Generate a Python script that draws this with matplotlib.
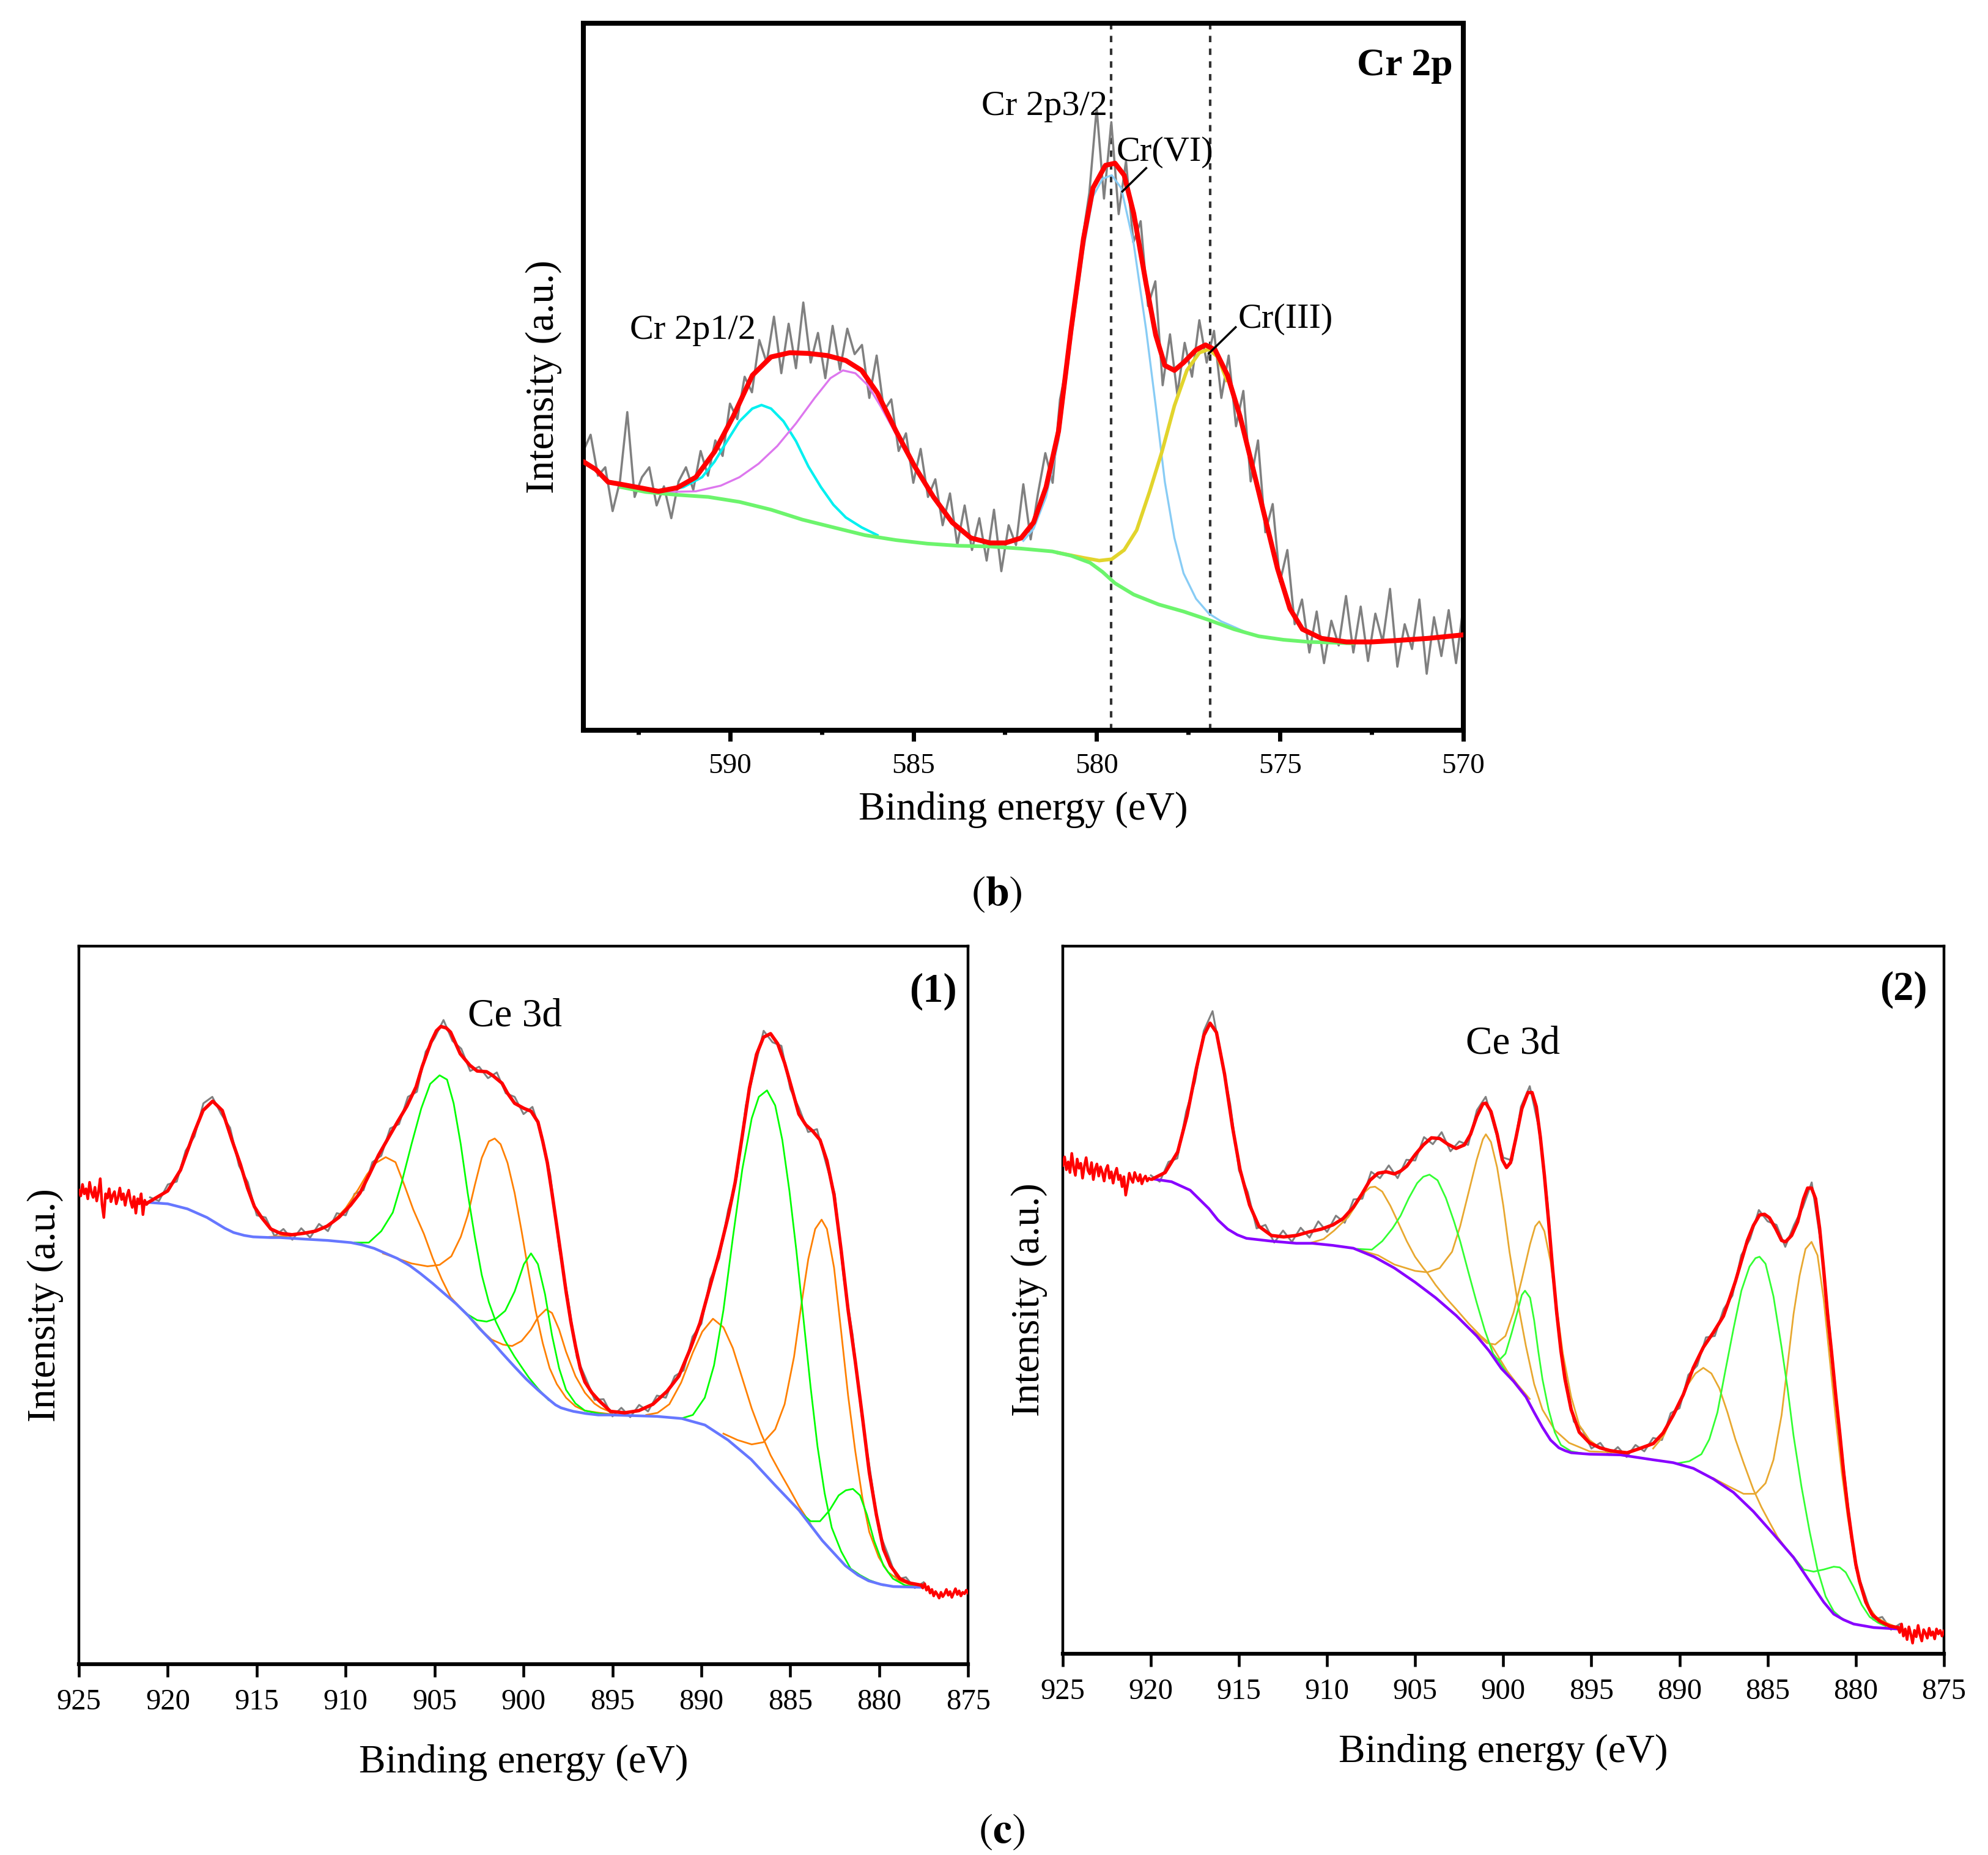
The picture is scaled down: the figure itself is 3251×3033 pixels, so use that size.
import numpy as np
import matplotlib.pyplot as plt
from matplotlib.ticker import MultipleLocator

plt.rcParams['font.family'] = ['Liberation Serif', 'DejaVu Serif']
plt.rcParams['mathtext.fontset'] = 'stix'

# ---------------- (b) Cr 2p : binding energy (eV), intensity (a.u.) ----------------
cr_raw = [395, 418, 360, 372, 310, 352, 450, 330, 358, 372, 318, 345, 300, 352, 372, 340,
          395, 360, 410, 388, 462, 440, 500, 478, 552, 520, 585, 505, 575, 512, 605, 520,
          562, 498, 572, 510, 568, 532, 545, 470, 530, 452, 468, 395, 420, 350, 398, 330,
          355, 290, 335, 262, 318, 255, 300, 240, 312, 225, 290, 262, 348, 270, 335, 392,
          350, 468, 520, 610, 690, 760, 880, 752, 860, 730, 805, 690, 720, 600, 635, 488,
          560, 475, 548, 500, 580, 520, 565, 470, 530, 430, 480, 352, 410, 280, 320, 210,
          255, 150, 185, 110, 168, 95, 155, 120, 190, 110, 175, 98, 165, 125, 200, 90,
          150, 115, 185, 80, 160, 105, 170, 95, 175]
cr_fit = [[594.0, 380], [593.66, 369], [593.32, 351], [592.98, 348], [592.46, 343], [591.95, 338],
          [591.44, 343], [590.93, 358], [590.42, 394], [589.91, 444], [589.39, 502], [588.88, 528],
          [588.37, 534], [587.86, 533], [587.35, 530], [586.84, 523], [586.41, 509], [585.98, 477],
          [585.47, 423], [584.96, 373], [584.45, 330], [583.94, 294], [583.43, 272], [582.91, 265],
          [582.49, 265], [582.06, 272], [581.72, 294], [581.38, 344], [581.04, 423], [580.70, 566],
          [580.36, 695], [580.10, 767], [579.76, 799], [579.50, 802], [579.25, 785], [578.99, 731],
          [578.65, 631], [578.39, 559], [578.14, 516], [577.88, 509], [577.63, 520], [577.29, 538],
          [577.03, 545], [576.77, 538], [576.43, 502], [576.09, 444], [575.75, 373], [575.41, 301],
          [575.07, 229], [574.73, 172], [574.39, 143], [573.87, 130], [573.19, 125], [572.51, 125],
          [571.83, 127], [570.97, 130], [570.0, 135]]
cr_bg = [[592.98, 344], [592.29, 337], [591.44, 333], [590.59, 330], [589.74, 323], [588.88, 312],
         [588.03, 298], [587.18, 287], [586.32, 276], [585.47, 269], [584.62, 264], [583.77, 261],
         [582.91, 260], [582.06, 257], [581.21, 253], [580.70, 247], [580.18, 237], [579.84, 224],
         [579.50, 208], [578.99, 192], [578.31, 178], [577.63, 168], [576.94, 156], [576.26, 143],
         [575.58, 133], [574.90, 128], [574.21, 125], [573.53, 124], [573.02, 123]]
cr_2p12_a = [[591.78, 338], [591.27, 344], [590.76, 358], [590.42, 380], [590.08, 409], [589.74, 437],
             [589.39, 455], [589.14, 460], [588.88, 455], [588.54, 437], [588.20, 409], [587.86, 373],
             [587.52, 344], [587.18, 319], [586.84, 301], [586.41, 287], [585.98, 276]]
cr_2p12_b = [[591.78, 337], [590.93, 338], [590.25, 346], [589.74, 358], [589.22, 377], [588.71, 402],
             [588.20, 434], [587.69, 470], [587.26, 498], [586.92, 509], [586.58, 505], [586.24, 488],
             [585.90, 459], [585.56, 427], [585.22, 394], [584.87, 366]]
cr_vi = [[582.0, 268], [581.72, 285], [581.38, 330], [581.04, 410], [580.70, 552], [580.36, 680],
         [580.10, 755], [579.84, 780], [579.59, 785], [579.33, 767], [578.99, 688], [578.65, 566],
         [578.39, 459], [578.14, 351], [577.88, 272], [577.63, 222], [577.29, 186], [576.94, 165],
         [576.60, 154], [576.2, 145], [575.9, 138]]
cr_iii = [[581.04, 251], [580.36, 244], [579.93, 240], [579.59, 242], [579.25, 255], [578.91, 283],
          [578.56, 337], [578.22, 394], [577.88, 459], [577.54, 509], [577.20, 534], [576.94, 539],
          [576.70, 528], [576.45, 495]]
cr_marks = [579.6, 576.9]

# ---------------- (c)(1) Ce 3d ----------------
ce1_edge_left = [660, 652, 668, 655, 662, 648, 671, 657, 650, 664, 645, 658, 676, 640, 622, 655,
                 649, 662, 644, 653, 658, 641, 650, 663, 647, 655, 639, 652, 660, 645, 636, 651,
                 628, 648, 641, 655, 626, 646, 640, 643]
ce1_edge_right = [110, 106, 112, 103, 108, 99, 104, 95, 101, 97, 92, 100, 94, 98, 104, 96, 101, 93,
                  99, 105, 97, 102, 95, 100, 98, 103, 99]
ce1_raw = [650, 645, 668, 672, 715, 735, 781, 790, 766, 747, 694, 671, 625, 622, 596, 606, 591,
           607, 594, 613, 603, 628, 625, 655, 660, 699, 708, 746, 752, 790, 797, 853, 872, 897,
           868, 857, 826, 832, 816, 824, 795, 790, 766, 776, 738, 682, 580, 509, 427, 398, 368,
           369, 345, 357, 344, 361, 352, 374, 371, 401, 409, 456, 474, 536, 565, 632, 679, 778,
           830, 882, 866, 861, 801, 774, 741, 745, 698, 655, 538, 459, 348, 267, 184, 152, 118,
           121, 106, 114]
ce1_fit = [[921.10, 643], [920.01, 659], [919.29, 688], [918.56, 738], [918.02, 771], [917.48, 784],
           [916.94, 771], [916.40, 730], [915.92, 696], [915.52, 663], [915.13, 637], [914.73, 622],
           [914.21, 606], [913.68, 600], [913.02, 598], [912.36, 600], [911.70, 603], [911.04, 610],
           [910.39, 622], [909.73, 639], [909.20, 656], [908.67, 682], [908.15, 709], [907.62, 732],
           [907.09, 755], [906.56, 777], [906.04, 804], [905.70, 832], [905.19, 867], [904.90, 882],
           [904.65, 888], [904.35, 886], [904.10, 880], [903.56, 850], [903.02, 834], [902.61, 826],
           [902.08, 825], [901.75, 820], [901.21, 809], [900.90, 795], [900.50, 781], [899.98, 774],
           [899.58, 770], [899.19, 755], [898.92, 728], [898.66, 698], [898.40, 656], [898.13, 610],
           [897.87, 565], [897.61, 519], [897.34, 477], [897.08, 443], [896.81, 412], [896.55, 393],
           [896.16, 378], [895.76, 367], [895.11, 352], [894.31, 350], [893.52, 353], [892.72, 362],
           [891.93, 380], [891.27, 401], [890.61, 440], [890.08, 475], [889.55, 523], [889.02, 570],
           [888.49, 624], [888.10, 671], [887.70, 736], [887.30, 802], [886.90, 849], [886.51, 873],
           [886.11, 878], [885.71, 864], [885.32, 837], [884.92, 802], [884.52, 766], [884.13, 751],
           [883.73, 742], [883.33, 730], [882.94, 701], [882.54, 653], [882.14, 576], [881.75, 493],
           [881.35, 422], [880.95, 345], [880.56, 267], [880.16, 208], [879.76, 160], [879.37, 137],
           [878.84, 119], [878.31, 113], [877.65, 110]]
ce1_bg = [[921.1, 643], [920.0, 641], [918.9, 634], [917.8, 622], [916.8, 607], [916.3, 601],
          [915.7, 597], [915.2, 595], [914.2, 594], [913.7, 594], [912.4, 592], [911.0, 590],
          [909.7, 587], [909.1, 584], [908.4, 579], [907.75, 572], [907.1, 565], [906.4, 555],
          [905.8, 544], [905.1, 530], [904.5, 517], [903.8, 502], [903.1, 485], [902.5, 468],
          [901.8, 450], [901.2, 433], [900.5, 414], [899.85, 397], [899.2, 382], [898.5, 367],
          [898.2, 361], [897.9, 357], [897.5, 354], [897.2, 352], [896.5, 349], [895.8, 347],
          [895.1, 347], [893.8, 346], [892.5, 345], [891.1, 342], [889.8, 333], [888.5, 312],
          [887.2, 285], [885.85, 249], [884.5, 214], [883.2, 172], [881.9, 137], [881.2, 124],
          [880.6, 116], [879.9, 111], [879.2, 108], [877.65, 107]]
ce1_orange = [
    [[914.3, 595], [913.0, 597], [911.7, 603], [910.8, 614], [910.0, 635], [909.3, 661], [908.8, 682],
     [908.3, 698], [907.75, 706], [907.2, 699], [906.7, 667], [906.2, 633], [905.6, 599], [905.1, 565],
     [904.6, 536], [904.1, 511], [903.4, 492], [902.7, 475], [902.1, 458]],
    [[907.9, 572], [907.1, 565], [906.3, 558], [905.4, 554], [904.72, 556], [904.06, 568], [903.53, 595],
     [903.14, 625], [902.74, 667], [902.35, 705], [901.95, 728], [901.62, 732], [901.29, 724],
     [900.9, 698], [900.5, 656], [900.11, 603], [899.71, 545], [899.32, 492], [898.92, 447],
     [898.53, 412], [898.13, 390], [897.61, 371], [897.08, 359], [896.55, 353], [895.76, 350],
     [895.0, 348]],
    [[902.5, 468], [901.8, 452], [901.16, 445], [900.64, 443], [900.11, 450], [899.58, 466],
     [899.19, 483], [898.73, 494], [898.4, 489], [898.0, 466], [897.61, 435], [897.08, 401],
     [896.55, 378], [896.02, 363], [895.66, 357], [895.0, 350]],
    [[893.1, 347], [892.46, 350], [891.8, 362], [891.14, 392], [890.48, 434], [889.95, 463],
     [889.35, 481], [888.76, 469], [888.23, 440], [887.7, 398], [887.17, 356], [886.64, 321],
     [886.11, 291], [885.58, 267], [885.05, 244], [884.52, 220], [883.86, 195]],
    [[888.76, 321], [887.96, 312], [887.17, 306], [886.51, 309], [885.85, 327], [885.32, 362],
     [884.79, 428], [884.39, 499], [883.99, 564], [883.6, 606], [883.24, 619], [882.94, 606],
     [882.54, 552], [882.14, 463], [881.75, 374], [881.35, 297], [880.95, 232], [880.56, 184],
     [880.03, 149], [879.5, 128], [878.84, 116], [877.91, 108]],
]
ce1_green = [
    [[909.5, 587], [908.7, 587], [908.0, 603], [907.35, 629], [906.85, 671], [906.3, 724], [905.75, 774],
     [905.25, 808], [904.72, 820], [904.3, 814], [903.93, 781], [903.53, 724], [903.14, 656],
     [902.74, 595], [902.35, 542], [901.95, 504], [901.56, 477], [901.03, 450], [900.5, 428],
     [899.98, 409], [899.7, 399], [899.2, 384], [898.6, 368]],
    [[903.8, 502], [903.14, 487], [902.61, 479], [902.08, 477], [901.56, 481], [901.03, 492],
     [900.5, 519], [899.98, 557], [899.58, 572], [899.19, 557], [898.79, 515], [898.4, 458],
     [898.0, 412], [897.61, 382], [897.08, 363], [896.55, 353], [895.76, 349], [895.0, 347]],
    [[891.14, 342], [890.48, 347], [889.81, 371], [889.29, 416], [888.76, 493], [888.23, 594],
     [887.7, 689], [887.17, 760], [886.77, 790], [886.31, 799], [885.85, 778], [885.45, 730],
     [885.05, 659], [884.66, 576], [884.26, 481], [883.86, 386], [883.47, 303], [883.07, 238],
     [882.67, 190], [882.14, 157], [881.61, 133], [881.08, 124], [880.56, 117], [879.8, 110]],
    [[884.4, 211], [883.86, 199], [883.33, 199], [882.8, 214], [882.28, 235], [881.88, 242],
     [881.48, 244], [881.08, 235], [880.69, 208], [880.29, 172], [879.76, 137], [879.23, 119],
     [878.57, 110], [878.0, 108]],
]

# ---------------- (c)(2) Ce 3d ----------------
ce2_edge_left = [690, 702, 684, 695, 680, 707, 688, 676, 699, 686, 693, 672, 689, 701, 683, 678,
                 694, 670, 685, 692, 675, 688, 680, 668, 684, 690, 672, 681, 665, 678, 686, 670,
                 676, 660, 674, 648, 662, 679, 671, 666, 680, 673, 668, 677, 664, 671, 675, 668,
                 672, 670, 671]
ce2_edge_right = [37, 30, 42, 25, 35, 20, 38, 28, 15, 33, 24, 40, 27, 18, 34, 29, 22, 36, 26, 31,
                  21, 35, 28, 33, 25, 32]
ce2_raw = [676, 667, 695, 700, 766, 808, 880, 908, 841, 777, 683, 652, 601, 606, 581, 598, 582,
           602, 588, 611, 596, 619, 609, 642, 643, 681, 672, 690, 672, 698, 697, 730, 720, 737,
           710, 724, 719, 768, 787, 743, 701, 697, 773, 802, 745, 640, 482, 396, 328, 316, 290,
           298, 281, 292, 278, 295, 286, 305, 302, 340, 347, 394, 407, 447, 449, 487, 506, 563,
           586, 627, 611, 606, 575, 606, 631, 666, 583, 463, 333, 222, 121, 85, 48, 52, 34, 42]
ce2_fit = [[919.90, 671], [919.19, 680], [918.48, 709], [917.95, 760], [917.42, 827], [916.99, 874],
           [916.64, 891], [916.28, 878], [915.82, 819], [915.36, 743], [914.94, 684], [914.40, 634],
           [913.87, 604], [913.16, 591], [912.46, 589], [911.75, 591], [911.04, 596], [910.33, 600],
           [909.67, 606], [909.09, 615], [908.51, 631], [908.04, 649], [907.57, 669], [907.11, 679],
           [906.64, 681], [906.18, 678], [905.83, 682], [905.48, 689], [905.01, 705], [904.54, 719],
           [904.08, 729], [903.61, 728], [903.15, 720], [902.68, 714], [902.21, 719], [901.86, 734],
           [901.51, 759], [901.16, 777], [900.99, 778], [900.70, 766], [900.35, 734], [900.06, 698],
           [899.82, 687], [899.59, 694], [899.30, 727], [898.95, 770], [898.60, 793], [898.37, 793],
           [898.13, 773], [897.90, 730], [897.67, 676], [897.43, 611], [897.20, 543], [896.97, 482],
           [896.73, 428], [896.50, 388], [896.15, 345], [895.69, 313], [895.11, 298], [894.52, 291],
           [893.94, 287], [893.36, 285], [892.97, 284], [892.26, 290], [891.49, 297], [890.93, 312],
           [890.36, 337], [889.79, 366], [889.22, 404], [888.65, 433], [888.08, 454], [887.51, 477],
           [887.17, 501], [886.83, 526], [886.49, 555], [886.15, 584], [885.81, 605], [885.46, 620],
           [885.18, 621], [884.90, 616], [884.55, 601], [884.21, 584], [883.99, 582], [883.64, 591],
           [883.30, 610], [882.96, 643], [882.73, 658], [882.51, 658], [882.28, 643], [882.05, 601],
           [881.82, 542], [881.60, 480], [881.37, 425], [881.14, 366], [880.91, 312], [880.69, 257],
           [880.46, 207], [880.23, 165], [880.00, 127], [879.78, 102], [879.43, 73], [879.09, 56],
           [878.64, 46], [878.07, 39], [877.61, 37]]
ce2_bg = [[919.9, 671], [918.83, 667], [917.77, 655], [916.71, 629], [916.2, 613], [915.64, 600],
          [915.1, 592], [914.58, 587], [913.16, 583], [911.75, 580], [910.84, 580], [909.67, 577],
          [908.51, 573], [907.34, 561], [906.18, 545], [905.01, 525], [903.84, 503], [902.68, 478],
          [901.51, 449], [900.81, 428], [900.11, 403], [899.42, 385], [898.72, 363], [898.25, 341],
          [897.78, 320], [897.32, 302], [896.85, 291], [896.5, 287], [896.15, 284], [895.11, 282],
          [893.36, 281], [891.49, 274], [890.36, 270], [889.22, 262], [888.08, 247], [886.94, 228],
          [885.81, 201], [884.67, 169], [883.53, 136], [882.96, 115], [882.39, 94], [881.82, 73],
          [881.25, 56], [880.69, 48], [880.12, 42], [878.98, 37], [877.61, 35]]
ce2_orange = [
    [[911.0, 580], [910.2, 586], [909.6, 598], [909.1, 610], [908.8, 617], [908.39, 633], [907.92, 651],
     [907.57, 659], [907.28, 660], [906.87, 653], [906.41, 633], [905.94, 608], [905.48, 583],
     [905.01, 561], [904.54, 545], [904.31, 538], [903.84, 521], [903.26, 503], [902.68, 487],
     [901.98, 467], [901.28, 449], [900.7, 437], [899.77, 399], [899.18, 380], [898.5, 360]],
    [[908.51, 573], [907.11, 563], [906.18, 550], [905.01, 541], [904.31, 539], [903.61, 545],
     [902.91, 568], [902.45, 604], [901.98, 651], [901.51, 698], [901.16, 727], [900.99, 734],
     [900.7, 723], [900.35, 687], [900.0, 633], [899.65, 568], [899.18, 496], [898.72, 435],
     [898.25, 381], [897.78, 345], [897.08, 316], [896.27, 298], [895.11, 286], [893.36, 284]],
    [[901.75, 457], [900.93, 439], [900.46, 437], [899.88, 449], [899.42, 482], [898.95, 529],
     [898.48, 579], [898.19, 604], [897.96, 611], [897.67, 597], [897.32, 554], [896.97, 489],
     [896.62, 424], [896.15, 363], [895.69, 323], [895.11, 302], [894.52, 291], [893.36, 284]],
    [[891.5, 290], [890.9, 308], [890.13, 350], [889.56, 379], [889.1, 396], [888.65, 404],
     [888.19, 396], [887.74, 375], [887.28, 341], [886.83, 303], [886.37, 270], [885.81, 232],
     [885.35, 207], [884.9, 186], [884.44, 165], [883.99, 150], [883.53, 137]],
    [[888.08, 248], [887.17, 236], [886.37, 226], [885.69, 226], [885.12, 241], [884.67, 274],
     [884.21, 337], [883.87, 408], [883.53, 480], [883.19, 534], [882.85, 572], [882.51, 582],
     [882.17, 563], [881.82, 501], [881.48, 417], [881.14, 333], [880.8, 257], [880.46, 194],
     [880.12, 140], [879.78, 102], [879.32, 69], [878.86, 52], [878.3, 44], [877.61, 37]],
]
ce2_green = [
    [[908.27, 572], [907.46, 571], [906.87, 583], [906.29, 601], [905.83, 619], [905.36, 644],
     [904.89, 665], [904.54, 674], [904.19, 677], [903.73, 669], [903.26, 644], [902.8, 611],
     [902.45, 583], [901.98, 539], [901.51, 496], [901.05, 457], [900.58, 424], [900.23, 413],
     [899.77, 395], [899.2, 379]],
    [[900.58, 421], [900.23, 415], [899.88, 424], [899.53, 453], [899.18, 485], [898.95, 507],
     [898.77, 513], [898.48, 503], [898.25, 471], [898.02, 428], [897.78, 388], [897.43, 345],
     [897.08, 313], [896.73, 295], [896.15, 286], [895.5, 283]],
    [[890.13, 269], [889.45, 272], [888.76, 282], [888.31, 303], [887.85, 341], [887.4, 400],
     [886.94, 459], [886.49, 513], [886.03, 547], [885.69, 559], [885.46, 561], [885.12, 551],
     [884.67, 505], [884.21, 433], [883.87, 375], [883.53, 308], [883.08, 236], [882.62, 173],
     [882.17, 119], [881.71, 81], [881.25, 60], [880.8, 50], [880.35, 44]],
    [[883.53, 137], [882.96, 119], [882.39, 116], [881.82, 119], [881.25, 123], [880.91, 122],
     [880.57, 115], [880.12, 94], [879.66, 69], [879.21, 52], [878.75, 44], [878.3, 39]],
]


def xy(pairs):
    a = np.array(pairs, dtype=float)
    return a[:, 0], a[:, 1]


fig = plt.figure(figsize=(32.51, 30.33), dpi=100)

ax_b = fig.add_axes([0.2934, 0.6063, 0.4427, 0.3812])
ax_c1 = fig.add_axes([0.0397, 0.1029, 0.4473, 0.3871])
ax_c2 = fig.add_axes([0.5346, 0.1085, 0.4432, 0.3815])

# ---- (b) ----
ax = ax_b
ax.plot(np.linspace(594, 570, len(cr_raw)), cr_raw, color='#808080', lw=2.6, zorder=2)
for e in cr_marks:
    ax.axvline(e, color='#333333', lw=3, ls=(0, (2.5, 2.5)), zorder=1)
ax.plot(*xy(cr_2p12_a), color='#00f0f0', lw=3, zorder=3)
ax.plot(*xy(cr_2p12_b), color='#dd77ee', lw=2.4, zorder=3)
ax.plot(*xy(cr_vi), color='#88ccf5', lw=2.4, zorder=3)
ax.plot(*xy(cr_iii), color='#e2d42c', lw=4.2, zorder=3)
ax.plot(*xy(cr_bg), color='#6cf46c', lw=4.3, zorder=4)
ax.plot(*xy(cr_fit), color='#ff0000', lw=5.8, zorder=5, solid_capstyle='round')
ax.set_xlim(594, 570)
ax.set_ylim(0, 1000)
ax.set_xticks(np.arange(570, 591, 5))
ax.xaxis.set_minor_locator(MultipleLocator(2.5))
ax.set_yticks([])
ax.tick_params(axis='x', which='major', direction='out', length=13, width=5, labelsize=34, pad=14)
ax.tick_params(axis='x', which='minor', direction='out', length=5, width=5)
for s in ax.spines.values():
    s.set_linewidth(5.8)
ax.set_xlabel('Binding energy (eV)', fontsize=47, labelpad=14)
ax.set_ylabel('Intensity (a.u.)', fontsize=47, labelpad=25)
ax.text(0.988, 0.926, 'Cr 2p', transform=ax.transAxes, ha='right', va='baseline',
        fontsize=46, fontweight='bold')
ax.text(581.43, 882, 'Cr 2p3/2', ha='center', va='center', fontsize=42)
ax.text(591.02, 566, 'Cr 2p1/2', ha='center', va='center', fontsize=42)
ax.text(579.47, 817, 'Cr(VI)', ha='left', va='center', fontsize=42, zorder=6)
ax.plot([579.3, 578.65], [762, 795], color='black', lw=2.5, zorder=6)
ax.text(576.14, 581, 'Cr(III)', ha='left', va='center', fontsize=42, zorder=6)
ax.plot([576.94, 576.21], [533, 570], color='black', lw=2.5, zorder=6)


def ce_panel(ax, edge_l, edge_r, raw, raw_start, fit, bg, oranges, greens,
             c_bg, c_or, c_gr, tag, ce_pos):
    ax.plot(np.linspace(raw_start, 877.5, len(raw)), raw, color='#808080', lw=2.2, zorder=2)
    for c in oranges:
        ax.plot(*xy(c), color=c_or, lw=2.0, zorder=3)
    for c in greens:
        ax.plot(*xy(c), color=c_gr, lw=2.0, zorder=3)
    ax.plot(*xy(bg), color=c_bg, lw=3.2, zorder=4)
    fx, fy = xy(fit)
    ax.plot(np.linspace(925, fx[0], len(edge_l)), edge_l, color='#ff0000', lw=3.2, zorder=5)
    ax.plot(np.linspace(fx[-1], 875, len(edge_r)), edge_r, color='#ff0000', lw=3.2, zorder=5)
    ax.plot(fx, fy, color='#ff0000', lw=4.0, zorder=5)
    ax.set_xlim(925, 875)
    ax.set_ylim(0, 1000)
    ax.set_xticks(np.arange(875, 926, 5))
    ax.set_yticks([])
    ax.tick_params(axis='x', direction='out', length=15, width=3.3, labelsize=35, pad=14)
    for s in ax.spines.values():
        s.set_linewidth(3.2)
    ax.spines['bottom'].set_linewidth(4.5)
    ax.set_xlabel('Binding energy (eV)', fontsize=47, labelpad=34)
    ax.set_ylabel('Intensity (a.u.)', fontsize=47, labelpad=18)
    ax.text(ce_pos[0], ce_pos[1], 'Ce 3d', ha='center', va='baseline', fontsize=47)
    ax.text(tag[1], tag[2], tag[0], transform=ax.transAxes, ha='right', va='baseline',
            fontsize=48, fontweight='bold')


ce_panel(ax_c1, ce1_edge_left, ce1_edge_right, ce1_raw, 921.0, ce1_fit, ce1_bg,
         ce1_orange, ce1_green, '#6677ff', '#ff8000', '#00ff00', ('(1)', 0.987, 0.923),
         (900.49, 889))
ce_panel(ax_c2, ce2_edge_left, ce2_edge_right, ce2_raw, 920.0, ce2_fit, ce2_bg,
         ce2_orange, ce2_green, '#8800ff', '#e8a830', '#33ff33', ('(2)', 0.981, 0.924),
         (899.45, 848))

fig.text(0.5014, 0.5176, r'$(\mathbf{b})$', ha='center', va='center', fontsize=50)
fig.text(0.5038, 0.0122, r'$(\mathbf{c})$', ha='center', va='center', fontsize=50)

fig.savefig('out.png', dpi=100)
